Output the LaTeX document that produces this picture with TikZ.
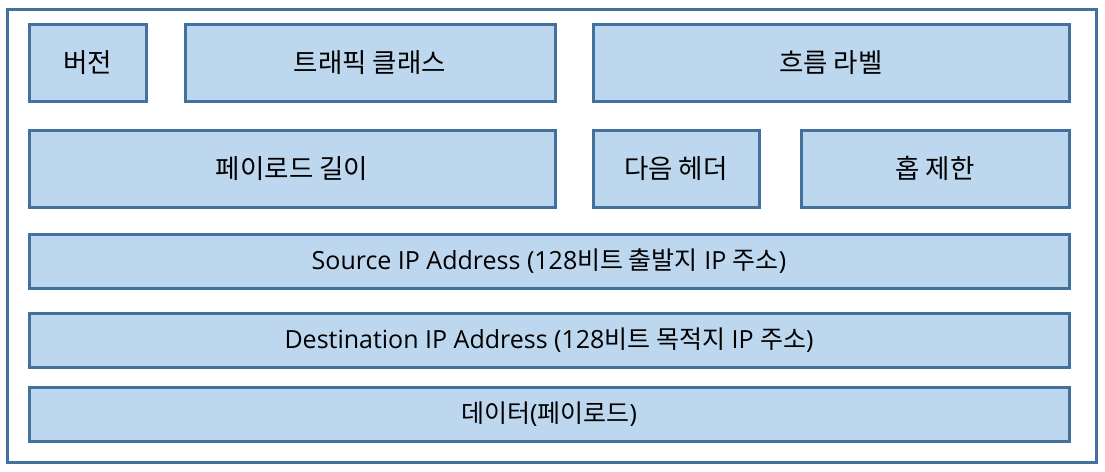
\documentclass[tikz,border=0pt]{standalone}
\usepackage{fontspec}
\setmainfont{Open Sans}
\newfontfamily\kr{Noto Sans CJK KR}
\definecolor{frame}{HTML}{41719C}
\definecolor{cell}{HTML}{BDD7EE}
\tikzset{
  fld/.style={draw=frame, fill=cell, line width=3pt, inner sep=0pt, font=\kr\fontsize{26.5}{30}\selectfont},
  wide/.style={fld, font=\fontsize{25}{29}\selectfont},
}
\newcommand{\cellbox}[6]{% name, x1, y1, x2, y2, style
  \node[#6, minimum width={(#4-#2)*1pt}, minimum height={(#5-#3)*1pt}] (#1) at ({(#2+#4)/2},{(#3+#5)/2})}
\begin{document}
\begin{tikzpicture}[x=1pt,y=-1pt]
\useasboundingbox[fill=white] (0,0) rectangle (1105,471);
\node[draw=frame, line width=3pt, fill=white, minimum width=1089pt, minimum height=453pt, inner sep=0pt] (outer) at (551.5,235.5) {};
\cellbox{ver}{29}{24}{146}{101}{fld} {버전};
\cellbox{tc}{185}{24}{555}{101}{fld} {트래픽 클래스};
\cellbox{fl}{593}{24}{1069}{101}{fld} {흐름 라벨};
\cellbox{pl}{29}{130}{555}{207}{fld} {페이로드 길이};
\cellbox{nh}{593}{130}{759}{207}{fld} {다음 헤더};
\cellbox{hl}{801}{130}{1069}{207}{fld} {홉 제한};
\cellbox{src}{29}{234}{1069}{288}{wide} {Source IP Address (128{\kr 비트 출발지} IP {\kr 주소})};
\cellbox{dst}{29}{313}{1069}{367}{wide} {Destination IP Address (128{\kr 비트 목적지} IP {\kr 주소})};
\cellbox{dat}{29}{387}{1069}{441}{wide} {{\kr 데이터}({\kr 페이로드})};
\end{tikzpicture}
\end{document}
